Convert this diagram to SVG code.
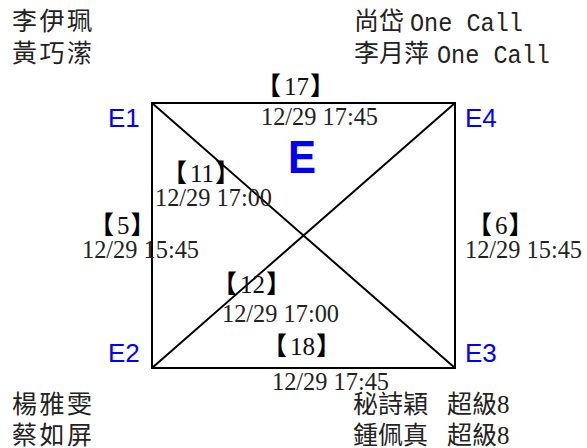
<svg xmlns="http://www.w3.org/2000/svg" width="587" height="448" viewBox="0 0 587 448">
<style>
.cjk{font-family:"Liberation Serif","Noto Sans CJK TC",serif;font-size:25px;fill:#222}
.lat{font-family:"Liberation Mono",monospace;font-size:26px}
.br{font-family:"Liberation Serif",serif;font-size:25px;fill:#111}
.bk{font-family:"Noto Sans CJK TC","Noto Sans CJK JP",sans-serif;font-weight:700;fill:#000}
.dt{font-family:"Liberation Serif",serif;font-size:25px;fill:#222}
.lbl{font-family:"Liberation Sans",Arial,sans-serif;font-size:26px;fill:#0000ff}
.edge{stroke:#000;stroke-width:2;fill:none}
</style>
<rect width="587" height="448" fill="#fff"/>
<g id="connectors">
<rect class="edge" x="152" y="103" width="303" height="265"/>
<line class="edge" x1="152" y1="103" x2="455" y2="368"/>
<line class="edge" x1="455" y1="103" x2="152" y2="368"/>
</g>
<g id="E1"><text class="lbl" x="108" y="127">E1</text></g>
<g id="E4"><text class="lbl" x="465" y="127">E4</text></g>
<g id="E2"><text class="lbl" x="108" y="362">E2</text></g>
<g id="E3"><text class="lbl" x="465" y="362">E3</text></g>
<g id="E"><text x="288" y="173" textLength="28" lengthAdjust="spacingAndGlyphs" style="font-family:'Liberation Sans',Arial,sans-serif;font-size:47px;font-weight:bold;fill:#0000ff">E</text></g>
<g id="names">
<text class="cjk" x="12" y="30" textLength="80">李伊珮</text>
<text class="cjk" x="12" y="62" textLength="80">黃巧潆</text>
<text class="cjk" x="354" y="30">尚岱</text>
<text class="cjk lat" x="410" y="31" textLength="113" lengthAdjust="spacingAndGlyphs">One Call</text>
<text class="cjk" x="354" y="62">李月萍</text>
<text class="cjk lat" x="437" y="63" textLength="113" lengthAdjust="spacingAndGlyphs">One Call</text>
<text class="cjk" x="12" y="413" textLength="80">楊雅雯</text>
<text class="cjk" x="12" y="444" textLength="80">蔡如屏</text>
<text class="cjk" x="353" y="413">秘詩穎</text>
<text class="cjk" x="447" y="413">超級8</text>
<text class="cjk" x="353" y="444">鍾佩真</text>
<text class="cjk" x="447" y="444">超級8</text>
</g>
<g id="edge-labels">
<text class="br" x="256" y="95"><tspan class="bk">【</tspan><tspan dx="3">17</tspan><tspan class="bk" dx="1">】</tspan></text>
<text class="dt" x="261" y="125" textLength="117" lengthAdjust="spacingAndGlyphs">12/29 17:45</text>
<text class="br" x="162" y="182"><tspan class="bk">【</tspan><tspan dx="3">11</tspan><tspan class="bk" dx="1">】</tspan></text>
<text class="dt" x="155" y="206" textLength="117" lengthAdjust="spacingAndGlyphs">12/29 17:00</text>
<text class="br" x="89" y="234"><tspan class="bk">【</tspan><tspan dx="3">5</tspan><tspan class="bk" dx="1">】</tspan></text>
<text class="dt" x="82" y="258" textLength="117" lengthAdjust="spacingAndGlyphs">12/29 15:45</text>
<text class="br" x="467" y="234"><tspan class="bk">【</tspan><tspan dx="3">6</tspan><tspan class="bk" dx="1">】</tspan></text>
<text class="dt" x="465" y="258" textLength="117" lengthAdjust="spacingAndGlyphs">12/29 15:45</text>
<text class="br" x="212" y="293"><tspan class="bk">【</tspan><tspan dx="3">12</tspan><tspan class="bk" dx="1">】</tspan></text>
<text class="dt" x="222" y="322" textLength="117" lengthAdjust="spacingAndGlyphs">12/29 17:00</text>
<text class="br" x="262" y="355"><tspan class="bk">【</tspan><tspan dx="3">18</tspan><tspan class="bk" dx="1">】</tspan></text>
<text class="dt" x="272" y="390" textLength="117" lengthAdjust="spacingAndGlyphs">12/29 17:45</text>
</g>
</svg>
